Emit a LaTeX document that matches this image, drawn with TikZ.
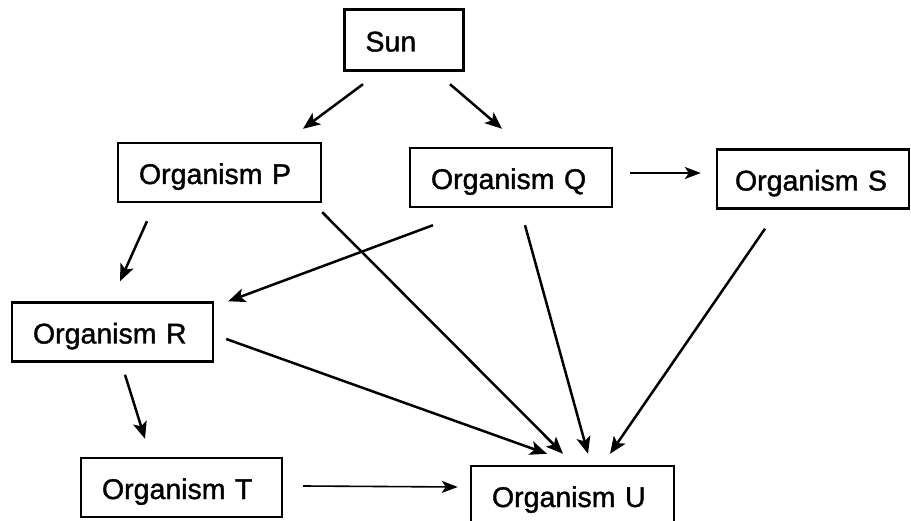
\documentclass[tikz,border=0pt]{standalone}
\usepackage{fontspec}
\setmainfont{Liberation Sans}
\newfontfamily\heavysans{Liberation Sans}[FakeBold=1.2]
\usetikzlibrary{arrows.meta}

\begin{document}
\begin{tikzpicture}[x=1pt, y=-1pt,
	box/.style={draw, line width=2.4pt, minimum height=59pt, inner xsep=21pt, align=left, text height=25pt, text depth=2pt, font=\heavysans\fontsize{28.5}{30}\selectfont},
	arr/.style={line width=2.5pt, -{Stealth[length=17pt, width=14pt, inset=4pt]}},
	thinarr/.style={line width=1.6pt, -{Stealth[length=16pt, width=12pt, inset=4pt]}}]
	\useasboundingbox (0, 0) rectangle (911, 521);
	\node[box, text width=77pt, minimum height=61pt] (sun) at (404, 40) {Sun};
	\node[box, text width=161pt] (orgP) at (219.5, 172.5) {Organism P};
	\node[box, text width=160pt] (orgQ) at (511, 177.5) {Organism Q};
	\node[box, inner xsep=18pt, text width=156pt] (orgS) at (813, 179) {Organism S};
	\node[box, text width=159pt] (orgR) at (112.5, 332) {Organism R};
	\node[box, text width=159pt] (orgT) at (181.5, 487.5) {Organism T};
	\node[box, text width=161pt] (orgU) at (572.5, 495.5) {Organism U};
	\draw[arr] ([xshift=-41pt, yshift=-12.5pt]sun.south) -- ([xshift=83.5pt, yshift=13pt]orgP.north);
	\draw[arr] ([xshift=46pt, yshift=-12.5pt]sun.south) -- ([xshift=-9pt, yshift=18pt]orgQ.north);
	\draw[thinarr] ([xshift=17pt, yshift=4.5pt]orgQ.east) -- ([xshift=-15pt, yshift=6pt]orgS.west);
	\draw[arr] ([xshift=-72.5pt, yshift=-18pt]orgP.south) -- ([xshift=7.5pt, yshift=20pt]orgR.north);
	\draw[arr] ([yshift=-9pt]orgP.south east) -- ([xshift=-9.5pt, yshift=11pt]orgU.north);
	\draw[arr] ([xshift=-78pt, yshift=-17pt]orgQ.south) -- ([xshift=14pt]orgR.north east);
	\draw[arr] ([xshift=14pt, yshift=-17pt]orgQ.south) -- ([xshift=15.5pt, yshift=11pt]orgU.north);
	\draw[arr] ([xshift=-48pt, yshift=-19pt]orgS.south) -- ([xshift=37.5pt, yshift=11pt]orgU.north);
	\draw[arr] ([xshift=12pt, yshift=-7pt]orgR.east) -- ([xshift=-25.5pt, yshift=11pt]orgU.north);
	\draw[arr] ([xshift=12.5pt, yshift=-12pt]orgR.south) -- ([xshift=-36.5pt, yshift=18pt]orgT.north);
	\draw[thinarr] ([xshift=20pt, yshift=1.5pt]orgT.east) -- ([xshift=-12pt, yshift=8.5pt]orgU.west);
\end{tikzpicture}
\end{document}
